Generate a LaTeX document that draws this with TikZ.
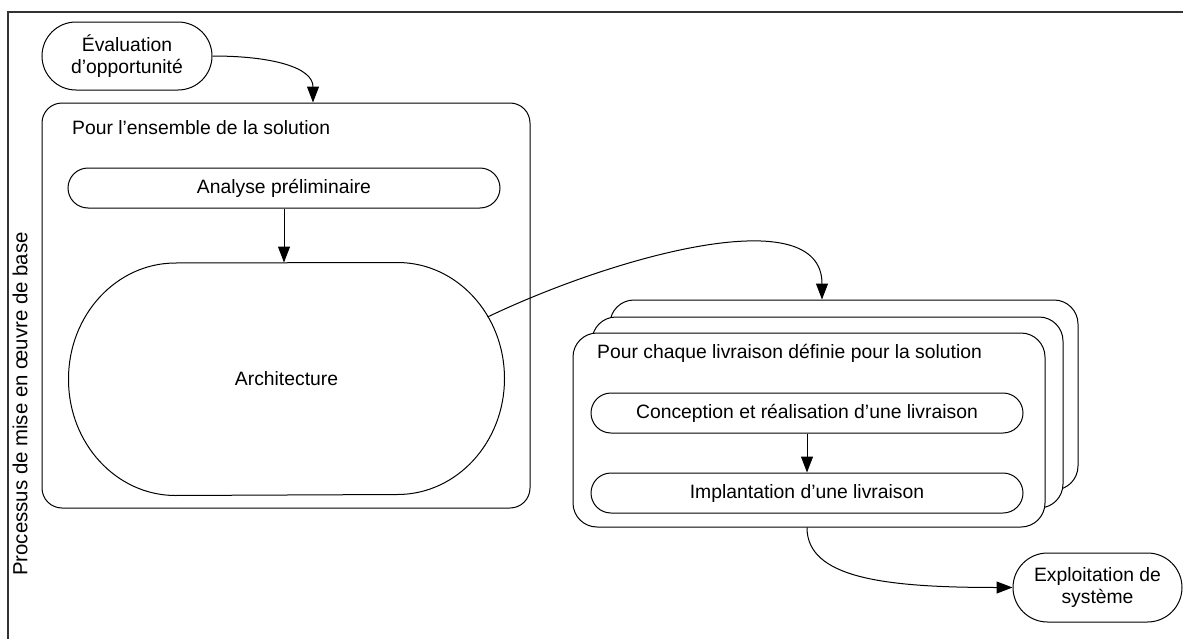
\documentclass[tikz,border=0pt]{standalone}
\usepackage{fontspec}
\setmainfont{Liberation Sans}
\usepackage{tikz}
\usetikzlibrary{calc}
\usetikzlibrary{positioning}
\usetikzlibrary{arrows.meta}

\tikzset{
  term/.style={draw, line width=0.75pt, align=center, inner sep=0pt},
  flow/.style={-{Triangle[length=12pt,width=9pt]}, line width=0.75pt},
}

\begin{document}
\begin{tikzpicture}[x=0.75pt,y=0.75pt,yscale=-1,xscale=1,every node/.style={font=\fontsize{14.5}{16.5}\selectfont}]
            \useasboundingbox (0,0) rectangle (1183,639);

            %Shape: Lane frame
            \draw [line width=1pt, black!80] (1183,12) -- (8,12) -- (8,639) ;
            % Text Node
            \node [rotate=90, font=\fontsize{15.3}{17}\selectfont] (lane) at (20,404) {Processus de mise en œuvre de base};

            %Shape: Terminator
            \node [term, minimum width=127.5pt, minimum height=51pt, rounded corners=25.5pt] (eval) at (127,56) {Évaluation\\d’opportunité};

            %Shape: Rounded Rect
            \node [term, minimum width=366pt, minimum height=303.75pt, rounded corners=15pt] (ens) at (286,305.5) {};
            % Text Node
            \node [anchor=west] (enslbl) at ($(ens.north west)+(26,25)$) {Pour l’ensemble de la solution};

            %Shape: Terminator
            \node [term, minimum width=324pt, minimum height=30pt, rounded corners=15pt] (analyse) at (284,188) {Analyse préliminaire};
            %Shape: Terminator (elliptic ends)
            \node [term, draw=none, minimum width=326.25pt, minimum height=174pt] (archi) at (286.5,379) {Architecture};
            \draw [line width=0.75pt] (archi.west) arc [start angle=180, end angle=270, x radius=107, y radius=116] -- ($(archi.north east)+(-107,0)$) arc [start angle=270, end angle=450, x radius=107, y radius=116] -- ($(archi.south west)+(107,0)$) arc [start angle=90, end angle=180, x radius=107, y radius=116] -- cycle ;

            %Shape: Stacked Rounded Rects
            \node [term, fill=white, minimum width=351pt, minimum height=142.5pt, rounded corners=18pt] (livr3) at (844,395) {};
            \node [term, fill=white, minimum width=353.25pt, minimum height=143.25pt, rounded corners=18pt] (livr2) at (827.5,412.5) {};
            \node [term, fill=white, minimum width=354pt, minimum height=145.5pt, rounded corners=18pt] (livr) at (809,430) {};
            % Text Node
            \node [anchor=west] (livrlbl) at ($(livr.north west)+(20,21)$) {Pour chaque livraison définie pour la solution};

            %Shape: Terminator
            \node [term, minimum width=324pt, minimum height=30pt, rounded corners=15pt] (concep) at (807,413) {Conception et réalisation d’une livraison};
            %Shape: Terminator
            \node [term, minimum width=324pt, minimum height=30pt, rounded corners=15pt] (implant) at (807,493) {Implantation d’une livraison};

            %Shape: Terminator
            \node [term, minimum width=126.75pt, minimum height=51.75pt, rounded corners=25.9pt] (exploit) at (1097.5,587.5) {Exploitation de\\système};

            %Curve Lines
            \draw [flow] (eval.east) .. controls +(60,0) and +(0,-35) .. ($(ens.north)+(27,0)$) ;
            %Straight Lines
            \draw [flow] (analyse.south) -- (analyse.south |- archi.north) ;
            %Curve Lines
            \draw [flow] ($(archi.east)+(-17,-62)$) .. controls +(130,-62) and +(0,-100) .. ($(livr3.north)+(-22,0)$) ;
            %Straight Lines
            \draw [flow] (concep.south) -- (implant.north) ;
            %Curve Lines
            \draw [flow] ($(livr.south)+(-2,0)$) .. controls +(0,50) and +(-130,0) .. (exploit.west) ;

        \end{tikzpicture}
\end{document}
